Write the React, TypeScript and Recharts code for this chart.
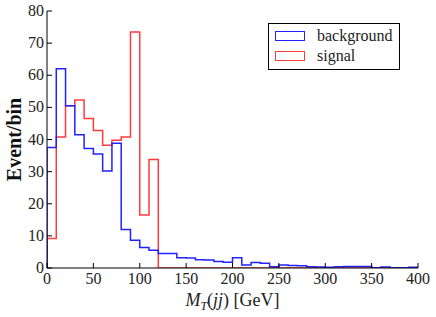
import React from "react";
import { LineChart, Line, XAxis, YAxis, Legend } from "recharts";

// histogram bins, 10 GeV wide, from 0 to 400
const BIN_WIDTH = 10;
const background = [
  37.5, 62, 50.5, 41.5, 37.2, 35.5, 30.2, 38.8, 12, 8.6,
  6.4, 5.5, 4.5, 4.5, 3.2, 3.1, 2.6, 2.5, 2.0, 1.8,
  3.2, 0.9, 1.7, 1.5, 0.4, 0.9, 0.8, 0.7, 0.4, 0.3,
  0.2, 0.4, 0.5, 0.5, 0.5, 0.1, 0.3, 0.1, 0.1, 0.2,
];
const signal = [
  9.2, 40.8, 50.5, 52.3, 46.5, 42.8, 38.2, 39.8, 40.8, 73.5,
  16.5, 33.8, 0, 0, 0, 0, 0, 0, 0, 0,
  0, 0, 0, 0, 0, 0, 0, 0, 0, 0,
  0, 0, 0, 0, 0, 0, 0, 0, 0, 0,
];
const xTicks = [0, 50, 100, 150, 200, 250, 300, 350, 400];
const yTicks = [0, 10, 20, 30, 40, 50, 60, 70, 80];

const seriesNames = { background: "background", signal: "signal" };
const seriesColors = { background: "#2222ff", signal: "#ff3b3b" };

const lastX = background.length * BIN_WIDTH;
const data = [
  { x: 0, background: 0, signal: 0 },
  ...background.map((v, i) => ({ x: i * BIN_WIDTH, background: v, signal: signal[i] })),
  { x: lastX, background: background[background.length - 1], signal: signal[signal.length - 1] },
  { x: lastX, background: 0, signal: 0 },
];

const FONT = "'Liberation Serif', 'Times New Roman', serif";
const TICK = 5;

const BottomTick = ({ x, y, payload }: any) => (
  <g>
    <line x1={x} y1={y} x2={x} y2={y - TICK} stroke="#000" />
    <text x={x} y={y + 16} textAnchor="middle" fontFamily={FONT} fontSize={16} fill="#222">
      {payload.value}
    </text>
  </g>
);
const TopTick = ({ x, y }: any) => <line x1={x} y1={y} x2={x} y2={y + TICK} stroke="#000" />;
const LeftTick = ({ x, y, payload }: any) => (
  <g>
    <line x1={x} y1={y} x2={x + TICK} y2={y} stroke="#000" />
    <text x={x - 3} y={y + 5} textAnchor="end" fontFamily={FONT} fontSize={16} fill="#222">
      {payload.value}
    </text>
  </g>
);
const RightTick = ({ x, y }: any) => <line x1={x} y1={y} x2={x - TICK} y2={y} stroke="#000" />;

const LegendBox = () => (
  <div
    style={{
      border: "1px solid #000",
      background: "#fff",
      width: 130,
      height: 45,
      fontFamily: FONT,
      fontSize: 16,
      color: "#222",
      boxSizing: "content-box",
    }}
  >
    {(["background", "signal"] as const).map((k, i) => (
      <div key={k} style={{ position: "relative", height: 20, marginTop: i === 0 ? 4 : 0 }}>
        <span
          style={{
            position: "absolute",
            left: 6,
            top: 3,
            width: 28,
            height: 8,
            border: `1.5px solid ${seriesColors[k]}`,
          }}
        />
        <span style={{ position: "absolute", left: 48, top: -1 }}>{seriesNames[k]}</span>
      </div>
    ))}
  </div>
);

export default function App() {
  return (
    <div style={{ position: "absolute", left: 0, top: 0 }}>
      <LineChart width={436} height={317} data={data} margin={{ top: 11, right: 18, bottom: 0, left: 0 }}>
        <XAxis
          xAxisId="bottom"
          dataKey="x"
          type="number"
          domain={[0, 400]}
          ticks={xTicks}
          allowDataOverflow
          height={49}
          tickSize={0}
          tickMargin={0}
          tickLine={false}
          tick={<BottomTick />}
          stroke="#000"
          label={({ viewBox }: any) => (
            <text
              x={viewBox.x + viewBox.width / 2}
              y={viewBox.y + 38}
              textAnchor="middle"
              fontFamily={FONT}
              fontSize={18}
              fill="#222"
            >
              <tspan fontStyle="italic">M</tspan>
              <tspan fontStyle="italic" fontSize={12} dy={4}>T</tspan>
              <tspan dy={-4}>(</tspan>
              <tspan fontStyle="italic">jj</tspan>
              <tspan>) [GeV]</tspan>
            </text>
          )}
        />
        <XAxis
          xAxisId="top"
          orientation="top"
          dataKey="x"
          type="number"
          domain={[0, 400]}
          ticks={xTicks}
          allowDataOverflow
          height={0}
          tickSize={0}
          tickMargin={0}
          tickLine={false}
          tick={<TopTick />}
          stroke="#000"
        />
        <YAxis
          yAxisId="left"
          domain={[0, 80]}
          ticks={yTicks}
          allowDataOverflow
          width={47}
          tickSize={0}
          tickMargin={0}
          tickLine={false}
          tick={<LeftTick />}
          stroke="#000"
          label={({ viewBox }: any) => (
            <text
              x={14}
              y={viewBox.y + viewBox.height / 2}
              transform={`rotate(-90 14 ${viewBox.y + viewBox.height / 2})`}
              textAnchor="middle"
              dominantBaseline="central"
              fontFamily={FONT}
              fontSize={20}
              fontWeight="bold"
              fill="#111"
            >
              Event/bin
            </text>
          )}
        />
        <YAxis
          yAxisId="right"
          orientation="right"
          domain={[0, 80]}
          ticks={yTicks}
          allowDataOverflow
          width={0}
          tickSize={0}
          tickMargin={0}
          tickLine={false}
          tick={<RightTick />}
          stroke="#000"
        />
        <Line
          xAxisId="bottom"
          yAxisId="left"
          type="stepAfter"
          dataKey="signal"
          stroke={seriesColors.signal}
          strokeWidth={1.5}
          dot={false}
          isAnimationActive={false}
        />
        <Line
          xAxisId="bottom"
          yAxisId="left"
          type="stepAfter"
          dataKey="background"
          stroke={seriesColors.background}
          strokeWidth={1.5}
          dot={false}
          isAnimationActive={false}
        />
        <Legend
          layout="horizontal"
          verticalAlign="middle"
          align="center"
          content={<LegendBox />}
          wrapperStyle={{ position: "absolute", left: 268, top: 23, width: 132, height: 47 }}
        />
      </LineChart>
    </div>
  );
}
